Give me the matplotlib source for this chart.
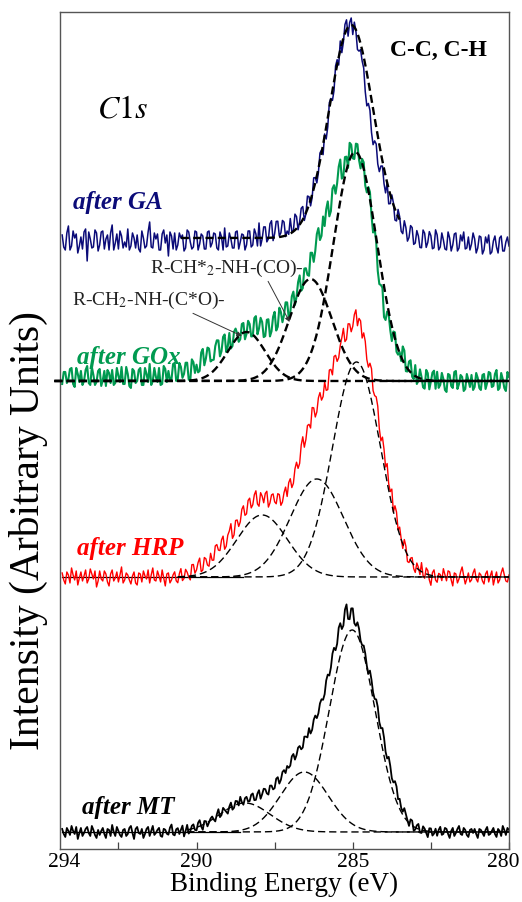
import numpy as np
import matplotlib
matplotlib.use('Agg')
import matplotlib.pyplot as plt
from matplotlib.transforms import ScaledTranslation

plt.rcParams['font.family'] = ['Liberation Serif', 'DejaVu Serif']
plt.rcParams['mathtext.fontset'] = 'stix'

# binding energy grid of the scans (eV), 0.05 eV steps
ENERGY = np.round(294.3 - 0.05 * np.arange(287), 2)

LABELS = ['after MT', 'after HRP', 'after GOx', 'after GA']
COLORS = ['black', '#ff0000', '#009a50', '#0b0b78']
OFFSETS = [17, 272, 468, 611]

# fitted C1s components: centre (eV), height (a.u.), FWHM (eV)
MT_CENTERS = [285.02, 286.55, 288.45]
MT_HEIGHTS = [202, 60, 29]
MT_FWHM = [1.72, 1.8, 1.9]

HRP_CENTERS = [284.88, 286.15, 287.9]
HRP_HEIGHTS = [215, 98, 62]
HRP_FWHM = [1.8, 2.0, 1.9]

GOX_CENTERS = [284.92, 286.35, 288.4]
GOX_HEIGHTS = [229, 102, 49]
GOX_FWHM = [1.63, 1.6, 1.4]

GA_CENTERS = [285.05]
GA_HEIGHTS = [213]
GA_FWHM = [1.65]

MT_RESID = [
    3, -2, -5, 4, 1, -3, 6, 1, -2, 5, -7, -1, 4, -4, -1, 3, 5, -1, -4, 6, 2, -3, -6, 2,
    -3, 1, 4, -2, -6, 3, 2, -4, 7, 0, -4, 5, 1, -3, -5, 2, 3, -4, -2, 4, 6, -1, -7, 3,
    5, -1, -2, 3, -6, -2, 3, 5, -4, 1, 6, -3, -1, 2, 4, -4, -5, 3, 2, -2, -3, 4, 7, -3,
    -4, 2, 3, -3, 1, 5, -6, -1, 5, -4, -2, 3, 4, -2, -3, 4, 6, -1, -5, 3, 2, -4, -1, 2,
    3, -1, -4, 2, 6, -3, -2, 4, 1, -2, -5, 1, 4, -4, -3, 3, 2, -3, 5, -1, -4, 2, 3, -2,
    -2, 4, 5, -2, -2, 4, 7, -2, 2, 7, 6, 1, -1, 7, 6, 1, 1, 9, 9, 1, 3, 9, 9, 4,
    9, 5, 5, 12, 12, 4, 6, 11, 10, 4, 3, 11, 8, 4, 10, 1, 1, 7, 7, 0, 0, 5, 4, -2,
    -2, 6, 6, -1, 1, 9, 9, 1, 2, 13, 13, 3, 3, 16, 19, 3, 2, 13, 14, 1, 1, 8, 6, -1,
    0, 6, 5, 0, 0, 11, 10, 6, 8, 16, 17, 10, 12, 20, 18, 11, 11, 19, 16, 9, 10, 16, 15, 6,
    10, 4, 3, 9, 5, 1, -3, 5, 5, -4, -2, 3, 5, -3, -3, 4, 2, -2, -6, 3, 3, -4, -2, 3,
    -4, 2, 5, -3, -2, 4, 3, -2, -6, 1, 4, -4, -1, 3, 6, -2, -3, 4, 2, -3, -5, 2, 3, -1,
    3, -2, -6, 3, 2, -1, -4, 2, 5, -3, -2, 1, 4, -2, -5, 3, 1, -4, 6, 2, -3, 4, 2]

HRP_RESID = [
    4, -3, -7, 5, 2, -6, 9, 2, -3, 6, -8, -1, 5, -4, 1, 7, -6, -2, 8, 3, -2, 6, -10, -4,
    6, -2, -4, 6, 3, -5, -9, 3, 7, -4, -1, 5, -5, 2, 10, -6, -3, 4, 2, -3, -7, 1, 5, -6,
    -8, 4, 3, -5, 6, 1, -2, 7, -6, 2, 9, -3, -4, 6, 1, -5, 7, -1, -9, 3, 4, -6, -3, 2,
    5, -4, -6, 3, 8, -4, -2, 7, 4, -1, -4, 11, 11, 2, 5, 12, 16, 2, 3, 15, 13, 6, 4, 16,
    8, 7, 20, 20, 13, 11, 20, 22, 7, 8, 17, 19, 24, 7, 8, 20, 18, 9, 11, 21, 22, 10, 9, 20,
    20, 8, 9, 17, 19, 4, 0, 12, 7, -1, 7, 8, -9, -6, 1, 1, -8, -11, -2, -4, -16, -14, -6, -2,
    -13, -1, 1, -10, -8, 4, 8, -1, 1, 16, 21, 7, 11, 21, 18, 10, 26, 21, 7, 7, 16, 16, 3, 1,
    10, -4, -9, 5, 0, -11, 2, -2, -13, -14, -6, -2, 4, -12, -12, 2, 1, -7, -1, 12, 19, 6, 17, 19,
    7, 18, 16, 5, 5, 17, 20, 7, 11, 19, 19, 6, 3, 16, 13, 4, 16, 4, 4, 14, -2, 11, 11, -1,
    7, 0, -5, 8, 5, -7, -5, 2, 5, -4, -6, 5, 2, -4, 9, -3, -5, 6, 4, -5, -10, 3, 6, -4,
    -6, 3, 2, -4, 8, 2, -4, 6, 5, -3, -9, 4, 3, -6, -2, 5, 10, 1, -7, -2, 4, -5, -3, 4,
    8, -2, -5, 4, 2, -4, -7, 3, 6, -5, 1, 6, -8, -1, 5, -6, -3, 4, 9, 2, -4, -5, 2]

GOX_RESID = [
    -3, 9, 9, -2, 2, 12, 13, -3, -6, 13, 7, -1, 10, -4, 0, 11, 15, -2, -4, 14, 6, -4, -1, 10,
    12, -5, 1, 10, -5, 11, 8, -2, 11, -4, -2, 13, 5, -1, 14, -3, -3, 14, 7, -5, -7, 12, 10, -2,
    0, 11, 13, -4, -4, 13, 7, -1, 17, -4, 0, 13, 4, -1, 13, -4, -3, 15, 12, -1, 10, 1, 2, 17,
    18, 0, 2, 18, 14, 3, 7, 18, 18, 1, 0, 21, 18, 7, 15, 7, 8, 26, 29, 12, 18, 28, 26, 12,
    12, 11, 23, 27, 25, 7, 10, 22, 22, 2, 5, 16, -2, -2, 10, 11, 4, -6, -5, 9, 9, -8, -3, 10,
    7, -5, -4, 15, 18, 1, 8, 20, 17, 3, 5, 22, 23, 6, 11, 25, 29, 9, 11, 28, 21, 8, 12, 21,
    17, -2, -2, 10, 10, -8, -5, 5, 7, -13, -15, 0, -4, -15, -20, -1, -5, -18, -11, 2, 4, -12, -12, 3,
    -11, 1, 4, -16, -16, 1, -1, -15, -10, 1, 3, -21, -23, -8, -11, -25, -2, -5, -19, -19, -2, 0, -12, -16,
    -1, 2, -14, -13, 1, 5, -9, -16, -2, -5, -24, -27, -18, -11, -31, -25, -8, -3, -11, -15, 1, 6, -8, -6,
    1, -4, 14, 13, -5, -3, 9, 12, -3, -4, 11, -7, -3, 9, 2, -8, -9, 10, 7, -9, -1, 8, 10, -8,
    9, -7, -4, 8, 2, -9, -11, 7, 6, -5, -7, 9, 10, -8, -3, 6, 4, -10, -8, 7, 1, -6, 6, -9,
    -6, 8, 3, -7, -9, 6, 7, -8, -2, 9, 8, -6, -5, 7, 11, -9, -7, 8, 2, -7, -10, 9, 4]

GA_RESID = [
    3, -9, -12, 5, 12, -12, -8, 7, 0, 4, -15, -8, 1, -11, 6, 9, -23, 6, -1, -10, -9, 8, 5, -13,
    -7, 6, 7, -11, -1, 3, -12, 5, 13, -12, -5, 4, -11, 7, 2, -10, -4, -9, 9, -12, -8, 5, 0, -10,
    3, -11, -14, 7, 0, -10, -8, 6, 16, -9, -10, 5, -1, 4, -12, -12, 4, 8, -5, 3, -18, 6, 2, -11,
    5, -12, -7, 5, 0, 3, -13, -10, 8, 6, -4, -11, -9, 7, 6, -12, -6, 4, 2, -11, -11, 6, 7, -9,
    -5, 5, 4, -10, -12, 6, 1, -12, 10, -9, -8, 5, -1, -10, -10, 6, 7, -11, -4, 4, 3, -12, -7, 7,
    7, -9, -7, 9, 4, -8, 15, -8, -1, 11, 11, -4, -1, 14, 17, -3, 4, 16, 16, 1, 4, 16, 14, -1,
    4, 0, 15, 1, 1, 16, 12, -3, 3, 14, 13, -4, -1, 13, 8, -6, -3, 11, 5, -7, -4, 8, 3, -10,
    2, -12, -9, 6, 1, -10, -9, 7, 5, -8, 9, -9, -4, 9, 10, -9, 3, 7, -9, 5, -1, -16, -13, -6,
    -11, -11, -27, -33, -22, -20, -33, -36, -23, -17, -28, -27, -13, -5, -15, -17, 0, -15, -9, 5, 2, -11, -8, 7,
    3, -9, -9, 6, 1, -11, -6, 7, 6, -10, -8, 5, 0, -11, -11, 7, 4, -10, -5, 6, 2, -11, -10, 8,
    3, -12, -9, 5, -2, -11, -12, 6, 0, -13, -7, 4, 5, -13, -10, 3, -3, 6, -11, -10, 1, -12, -6, 5,
    -1, -15, -10, 2, 1, -16, -12, 1, -5, 3, -16, -14, -3, 2, -9, -15, 0, 2, -13, -13, -4, 1, -8]

# energy span of each drawn fit, and of the plain baseline under the scan
FIT_RANGES = [(290.3, 280.0), (290.6, 280.0), (294.55, 280.0), (290.5, 283.5)]
BASE_RANGES = [(294.3, 288.6), (294.3, 288.5), None, None]


def gauss(e, c, h, w):
    return h * np.exp(-4 * np.log(2) * ((e - c) / w) ** 2)


def fit_sum(e, centers, heights, widths):
    return sum(gauss(e, c, h, w) for c, h, w in zip(centers, heights, widths))


comps = [(MT_CENTERS, MT_HEIGHTS, MT_FWHM),
         (HRP_CENTERS, HRP_HEIGHTS, HRP_FWHM),
         (GOX_CENTERS, GOX_HEIGHTS, GOX_FWHM),
         (GA_CENTERS, GA_HEIGHTS, GA_FWHM)]
resids = [MT_RESID, HRP_RESID, GOX_RESID, GA_RESID]
data_lw = [1.3, 1.0, 1.5, 1.1]
thick_fit = [False, False, True, True]

fig = plt.figure(figsize=(5.22, 9.02), dpi=100)
ax = fig.add_axes([0.1149, 0.0588, 0.8602, 0.9279])

for k in range(4):
    cen, hei, fw = comps[k]
    off = OFFSETS[k]
    spec = off + fit_sum(ENERGY, cen, hei, fw) + np.array(resids[k])
    ax.plot(ENERGY, spec, color=COLORS[k], lw=data_lw[k], zorder=2)

    if BASE_RANGES[k] is not None:
        ax.plot(BASE_RANGES[k], [off, off], color='black', lw=0.9, zorder=1)

    lo, hi = FIT_RANGES[k]
    e_fit = np.linspace(lo, hi, 600)
    if thick_fit[k]:
        ls, lw = (0, (3.4, 1.8)), 1.7
    else:
        ls, lw = (0, (5.2, 2.8)), 1.0
    for c, h, w in zip(cen, hei, fw):
        ax.plot(e_fit, off + gauss(e_fit, c, h, w), color='black', lw=lw,
                linestyle=ls, zorder=3, clip_on=(k != 2))

# sample labels
label_pos = [(293.67, 24), (293.83, 28), (293.83, 23), (293.95, 35)]
for k in range(4):
    x, dy = label_pos[k]
    ax.text(x, OFFSETS[k] + dy, LABELS[k], color=COLORS[k], fontsize=18,
            fontweight='bold', fontstyle='italic', va='center', ha='left')

ax.text(293.19, 731, r'$C1s$', fontsize=23, va='baseline', ha='left')
ax.text(283.82, 799, 'C-C, C-H', fontsize=17, fontweight='bold',
        va='center', ha='left')

ax.annotate('R-CH*$_2$-NH-(CO)-', xy=(287.02, 527), xytext=(291.49, 581),
            fontsize=14, color='#222222', va='center', ha='left',
            arrowprops=dict(arrowstyle='-|>', lw=0.7, color='#333333',
                            mutation_scale=7, shrinkA=0, shrinkB=0,
                            relpos=(0.76, 0.0)))
ax.annotate('R-CH$_2$-NH-(C*O)-', xy=(288.55, 513), xytext=(293.99, 549),
            fontsize=14, color='#222222', va='center', ha='left',
            arrowprops=dict(arrowstyle='-|>', lw=0.7, color='#333333',
                            mutation_scale=7, shrinkA=0, shrinkB=0,
                            relpos=(0.75, 0.0)))

ax.set_xlim(294.37, 280)
ax.set_ylim(0, 837)
ax.set_xticks([294, 290, 285, 280])
ax.set_xticks([292.5, 287.5, 282.5], minor=True)
ax.set_yticks([])
ax.tick_params(axis='x', which='both', direction='in', length=5, width=0.9,
               labelsize=15.5, pad=3, color='#444444')
major = ax.xaxis.get_major_ticks()
major[0].tick1line.set_visible(False)
# nudge the end labels the way the original sits them
for t, dx in ((major[0], -5), (major[-1], -4)):
    t.label1.set_transform(t.label1.get_transform()
                           + ScaledTranslation(dx / 72, 0, fig.dpi_scale_trans))
for s in ax.spines.values():
    s.set_color('#555555')
    s.set_linewidth(1.0)

ax.set_xlabel('Binding Energy (eV)', fontsize=19.5, labelpad=0)
fig.text(28 / 522, 1 - 530 / 902, 'Intensity (Arbitrary Units)', rotation=90,
         fontsize=30, va='center', ha='center')

fig.savefig('out.png', dpi=100)
